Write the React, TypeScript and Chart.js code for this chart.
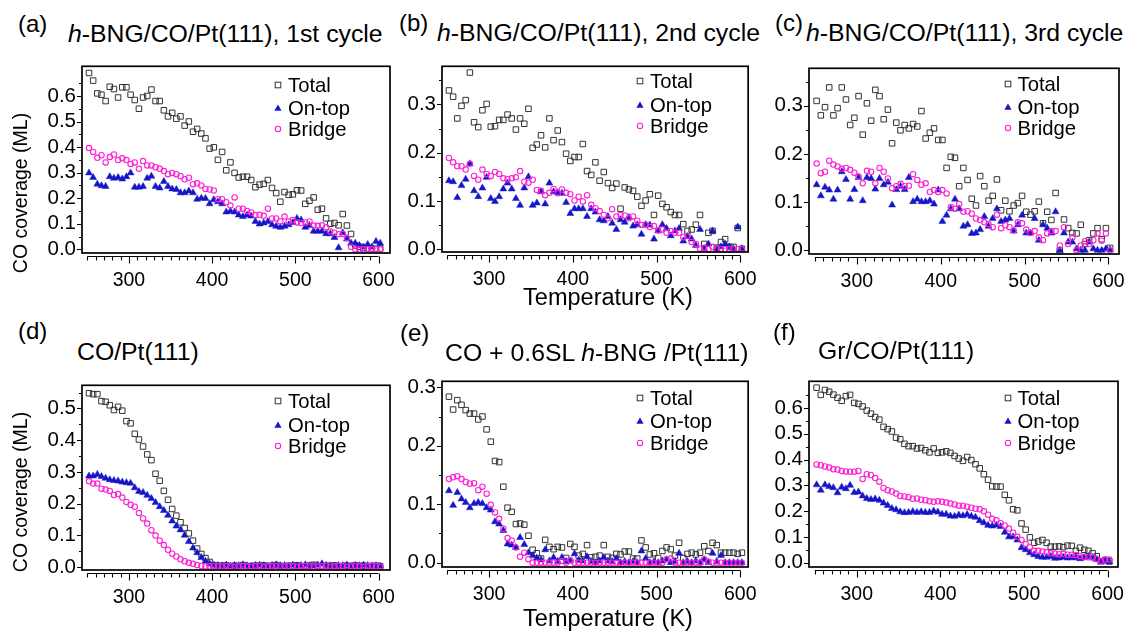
import React, { useEffect, useRef } from "react";
import { Chart, registerables } from "chart.js";

Chart.register(...registerables);

const FONT = '"Liberation Sans", Arial, Helvetica, sans-serif';

// ---------------- data ----------------
const temperatureK = [
  252, 257, 262, 267, 272, 277, 282, 287, 292, 297,
  302, 307, 312, 317, 322, 327, 332, 337, 342, 347,
  352, 357, 362, 367, 372, 377, 382, 387, 392, 397,
  402, 407, 412, 417, 422, 427, 432, 437, 442, 447,
  452, 457, 462, 467, 472, 477, 482, 487, 492, 497,
  502, 507, 512, 517, 522, 527, 532, 537, 542, 547,
  552, 557, 562, 567, 572, 577, 582, 587, 592, 597,
  602,
];

const xTickValues = [
  250, 260, 270, 280, 290, 300, 310, 320, 330, 340, 350, 360,
  370, 380, 390, 400, 410, 420, 430, 440, 450, 460, 470, 480,
  490, 500, 510, 520, 530, 540, 550, 560, 570, 580, 590, 600,
];

const yTicks065 = [0, 0.05, 0.1, 0.15, 0.2, 0.25, 0.3, 0.35, 0.4, 0.45, 0.5, 0.55, 0.6, 0.65];
const yTicks055 = [0, 0.05, 0.1, 0.15, 0.2, 0.25, 0.3, 0.35, 0.4, 0.45, 0.5, 0.55];
const yTicks035 = [0, 0.05, 0.1, 0.15, 0.2, 0.25, 0.3, 0.35];
const yTicks030 = [0, 0.05, 0.1, 0.15, 0.2, 0.25, 0.3];

// (a) h-BNG/CO/Pt(111), 1st cycle
const aTotal = [
  0.69, 0.66, 0.61, 0.605, 0.58, 0.636, 0.627, 0.594, 0.634, 0.634,
  0.605, 0.584, 0.55, 0.594, 0.6, 0.625, 0.58, 0.58, 0.544, 0.52,
  0.534, 0.511, 0.52, 0.484, 0.5, 0.46, 0.471, 0.453, 0.434, 0.394,
  0.399, 0.35, 0.381, 0.309, 0.34, 0.299, 0.281, 0.284, 0.284, 0.271,
  0.243, 0.253, 0.256, 0.271, 0.24, 0.22, 0.186, 0.224, 0.213, 0.215,
  0.231, 0.23, 0.178, 0.19, 0.203, 0.155, 0.159, 0.121, 0.1, 0.103,
  0.094, 0.138, 0.093, 0.06, 0.015, 0.01, 0.005, 0.003, 0.003, 0.002,
  0.003,
];
const aOnTop = [
  0.299, 0.281, 0.255, 0.249, 0.246, 0.284, 0.278, 0.281, 0.275, 0.284,
  0.299, 0.243, 0.243, 0.246, 0.278, 0.286, 0.246, 0.24, 0.265, 0.246,
  0.236, 0.234, 0.221, 0.221, 0.228, 0.221, 0.196, 0.2, 0.199, 0.178,
  0.194, 0.186, 0.178, 0.146, 0.149, 0.146, 0.134, 0.128, 0.134, 0.13,
  0.109, 0.099, 0.103, 0.109, 0.096, 0.09, 0.086, 0.09, 0.096, 0.105,
  0.121, 0.115, 0.086, 0.093, 0.071, 0.071, 0.071, 0.061, 0.061, 0.046,
  0.006, 0.065, 0.04, 0.024, 0.024, 0.015, 0.009, 0.019, 0.009, 0.031,
  0.024,
];
const aBridge = [
  0.396, 0.381, 0.358, 0.368, 0.34, 0.361, 0.371, 0.349, 0.356, 0.349,
  0.334, 0.34, 0.315, 0.345, 0.328, 0.328, 0.321, 0.315, 0.306, 0.294,
  0.299, 0.294, 0.286, 0.274, 0.28, 0.255, 0.258, 0.25, 0.236, 0.234,
  0.23, 0.196, 0.196, 0.184, 0.171, 0.203, 0.159, 0.159, 0.15, 0.144,
  0.134, 0.135, 0.131, 0.159, 0.121, 0.121, 0.109, 0.128, 0.109, 0.115,
  0.105, 0.103, 0.105, 0.109, 0.093, 0.092, 0.094, 0.086, 0.07, 0.065,
  0.059, 0.06, 0.044, 0.01, 0, 0, 0, 0, 0, 0,
  0,
];

// (b) h-BNG/CO/Pt(111), 2nd cycle
const bTotal = [
  0.329, 0.316, 0.271, 0.297, 0.309, 0.366, 0.263, 0.253, 0.288, 0.301,
  0.254, 0.255, 0.268, 0.268, 0.279, 0.271, 0.248, 0.271, 0.26, 0.291,
  0.21, 0.217, 0.236, 0.211, 0.271, 0.226, 0.246, 0.222, 0.198, 0.183,
  0.191, 0.191, 0.218, 0.162, 0.154, 0.18, 0.142, 0.16, 0.137, 0.127,
  0.136, 0.084, 0.128, 0.124, 0.121, 0.109, 0.09, 0.101, 0.114, 0.071,
  0.111, 0.094, 0.087, 0.077, 0.071, 0.071, 0.052, 0.038, 0.041, 0.051,
  0.071, 0.011, 0.034, 0.038, 0.003, 0.015, 0.021, 0.005, 0.005, 0.044,
  0.001,
];
const bOnTop = [
  0.142, 0.14, 0.107, 0.132, 0.145, 0.177, 0.121, 0.109, 0.127, 0.149,
  0.105, 0.099, 0.109, 0.125, 0.137, 0.125, 0.105, 0.091, 0.127, 0.15,
  0.091, 0.096, 0.119, 0.094, 0.137, 0.119, 0.117, 0.116, 0.097, 0.074,
  0.084, 0.084, 0.084, 0.068, 0.084, 0.077, 0.061, 0.059, 0.068, 0.054,
  0.041, 0.061, 0.056, 0.066, 0.048, 0.051, 0.031, 0.051, 0.05, 0.021,
  0.038, 0.051, 0.043, 0.028, 0.038, 0.043, 0.017, 0.026, 0.021, 0.008,
  0.041, 0.001, 0.011, 0.038, 0.001, 0.005, 0.011, 0.005, 0.001, 0.046,
  0.001,
];
const bBridge = [
  0.189, 0.18, 0.172, 0.172, 0.165, 0.177, 0.152, 0.144, 0.165, 0.156,
  0.152, 0.16, 0.156, 0.147, 0.145, 0.147, 0.149, 0.162, 0.14, 0.138,
  0.144, 0.123, 0.121, 0.112, 0.117, 0.125, 0.116, 0.124, 0.117, 0.114,
  0.101, 0.109, 0.099, 0.112, 0.092, 0.085, 0.079, 0.071, 0.064, 0.083,
  0.068, 0.071, 0.07, 0.064, 0.068, 0.059, 0.05, 0.051, 0.046, 0.048,
  0.039, 0.041, 0.034, 0.038, 0.034, 0.034, 0.025, 0.028, 0.015, 0.011,
  0.001, 0.003, 0, 0.005, 0, 0, 0, 0, 0, 0,
  0,
];

// (c) h-BNG/CO/Pt(111), 3rd cycle
const cTotal = [
  0.31, 0.28, 0.297, 0.338, 0.28, 0.295, 0.338, 0.313, 0.26, 0.275,
  0.32, 0.24, 0.305, 0.269, 0.333, 0.32, 0.272, 0.292, 0.222, 0.265,
  0.249, 0.26, 0.253, 0.262, 0.257, 0.289, 0.232, 0.244, 0.253, 0.229,
  0.229, 0.171, 0.194, 0.192, 0.133, 0.171, 0.146, 0.107, 0.093, 0.154,
  0.133, 0.103, 0.113, 0.147, 0.083, 0.103, 0.081, 0.093, 0.098, 0.113,
  0.08, 0.074, 0.081, 0.101, 0.056, 0.08, 0.063, 0.119, 0.0, 0.064,
  0.046, 0.036, 0.035, 0.053, 0.013, 0.021, 0.035, 0.046, 0.023, 0.046,
  0.005,
];
const cOnTop = [
  0.136, 0.113, 0.131, 0.125, 0.106, 0.125, 0.163, 0.147, 0.106, 0.126,
  0.151, 0.103, 0.151, 0.149, 0.127, 0.149, 0.136, 0.141, 0.094, 0.126,
  0.133, 0.126, 0.151, 0.101, 0.106, 0.101, 0.101, 0.103, 0.096, 0.125,
  0.06, 0.073, 0.086, 0.106, 0.086, 0.05, 0.053, 0.035, 0.036, 0.043,
  0.07, 0.05, 0.066, 0.086, 0.06, 0.063, 0.066, 0.04, 0.053, 0.073,
  0.036, 0.036, 0.066, 0.021, 0.053, 0.046, 0.036, 0.08, 0.0, 0.036,
  0.017, 0.017, 0.003, 0.0, 0.0, 0.017, 0.003, 0.0, 0.0, 0.003,
  0.001,
];
const cBridge = [
  0.18, 0.16, 0.163, 0.186, 0.178, 0.174, 0.169, 0.171, 0.167, 0.161,
  0.153, 0.139, 0.165, 0.163, 0.139, 0.171, 0.163, 0.149, 0.129, 0.133,
  0.138, 0.133, 0.134, 0.158, 0.146, 0.136, 0.139, 0.121, 0.125, 0.121,
  0.125, 0.118, 0.09, 0.086, 0.096, 0.08, 0.081, 0.076, 0.066, 0.063,
  0.058, 0.054, 0.048, 0.074, 0.046, 0.052, 0.048, 0.041, 0.058, 0.056,
  0.043, 0.036, 0.04, 0.027, 0.021, 0.035, 0.04, 0.04, 0.01, 0.048,
  0.013, 0.027, 0.0, 0.01, 0.019, 0.013, 0.021, 0.035, 0.02, 0.035,
  0.0,
];

// (d) CO/Pt(111)
const dTotal = [
  0.548, 0.545, 0.545, 0.523, 0.521, 0.51, 0.495, 0.505, 0.493, 0.46,
  0.453, 0.42, 0.402, 0.38, 0.355, 0.337, 0.294, 0.272, 0.24, 0.212,
  0.183, 0.162, 0.141, 0.123, 0.106, 0.083, 0.058, 0.041, 0.028, 0.016,
  0.005, 0.004, 0.003, 0.005, 0.002, 0.004, 0.003, 0.006, 0.003, 0.002,
  0.004, 0.003, 0.005, 0.002, 0.004, 0.006, 0.003, 0.002, 0.004, 0.003,
  0.005, 0.002, 0.003, 0.004, 0.007, 0.003, 0.002, 0.004, 0.003, 0.005,
  0.002, 0.003, 0.004, 0.002, 0.005, 0.003, 0.004, 0.002, 0.003, 0.004,
  0.002,
];
const dOnTop = [
  0.287, 0.287, 0.292, 0.285, 0.28, 0.275, 0.273, 0.271, 0.268, 0.266,
  0.264, 0.25, 0.238, 0.235, 0.226, 0.216, 0.203, 0.19, 0.178, 0.163,
  0.145, 0.129, 0.117, 0.1, 0.08, 0.06, 0.045, 0.03, 0.018, 0.01,
  0.006, 0.005, 0.004, 0.006, 0.003, 0.005, 0.004, 0.007, 0.004, 0.003,
  0.005, 0.006, 0.004, 0.003, 0.005, 0.007, 0.004, 0.005, 0.003, 0.006,
  0.004, 0.005, 0.007, 0.004, 0.003, 0.006, 0.01, 0.005, 0.004, 0.003,
  0.005, 0.004, 0.006, 0.003, 0.005, 0.004, 0.006, 0.005, 0.003, 0.004,
  0.003,
];
const dBridge = [
  0.27, 0.263, 0.263, 0.247, 0.244, 0.24, 0.227, 0.23, 0.219, 0.205,
  0.196, 0.19, 0.17, 0.153, 0.137, 0.116, 0.099, 0.083, 0.069, 0.054,
  0.042, 0.033, 0.024, 0.018, 0.013, 0.01, 0.006, 0.003, 0.002, 0.002,
  0.003, 0.002, 0.001, 0.003, 0.002, 0.001, 0.002, 0.003, 0.002, 0.001,
  0.002, 0.003, 0.001, 0.002, 0.002, 0.003, 0.001, 0.002, 0.003, 0.002,
  0.001, 0.002, 0.003, 0.002, 0.001, 0.002, 0.002, 0.003, 0.001, 0.002,
  0.003, 0.002, 0.001, 0.002, 0.003, 0.002, 0.001, 0.002, 0.004, 0.002,
  0.001,
];

// (e) CO + 0.6SL h-BNG /Pt(111)
const eTotal = [
  0.284, 0.262, 0.278, 0.27, 0.261, 0.255, 0.255, 0.245, 0.25, 0.228,
  0.207, 0.174, 0.172, 0.13, 0.094, 0.087, 0.066, 0.067, 0.065, 0.046,
  0.022, 0.016, 0.007, 0.039, 0.027, 0.023, 0.027, 0.026, 0.008, 0.032,
  0.027, 0.012, 0.015, 0.03, 0.009, 0.01, 0.012, 0.03, 0.01, 0.008,
  0.015, 0.014, 0.019, 0.019, 0.007, 0.007, 0.038, 0.026, 0.014, 0.016,
  0.008, 0.02, 0.026, 0.023, 0.012, 0.034, 0.008, 0.015, 0.017, 0.014,
  0.017, 0.028, 0.02, 0.034, 0.03, 0.017, 0.017, 0.017, 0.017, 0.015,
  0.017,
];
const eOnTop = [
  0.123, 0.098, 0.12, 0.109, 0.103, 0.094, 0.101, 0.103, 0.101, 0.094,
  0.09, 0.07, 0.066, 0.055, 0.032, 0.03, 0.026, 0.043, 0.031, 0.017,
  0.012, 0.008, 0.005, 0.022, 0.003, 0.009, 0.002, 0.009, 0.002, 0.003,
  0.015, 0.004, 0.003, 0.01, 0.002, 0, 0.003, 0.009, 0.003, 0.002,
  0.007, 0, 0.002, 0, 0.002, 0, 0.02, 0.007, 0, 0.002,
  0, 0.003, 0.005, 0, 0.002, 0.016, 0, 0.002, 0, 0.003,
  0, 0.005, 0, 0.016, 0.002, 0.012, 0, 0, 0, 0,
  0,
];
const eBridge = [
  0.143, 0.146, 0.148, 0.143, 0.138, 0.135, 0.136, 0.124, 0.13, 0.118,
  0.099, 0.086, 0.075, 0.058, 0.042, 0.038, 0.026, 0.01, 0.017, 0.006,
  0, 0, 0, 0, 0, 0, 0, 0.003, 0, 0.004,
  0, 0, 0, 0, 0, 0, 0, 0, 0, 0,
  0, 0, 0, 0, 0, 0, 0, 0, 0, 0,
  0, 0, 0.006, 0.007, 0, 0, 0, 0, 0, 0,
  0, 0.006, 0.002, 0, 0, 0, 0, 0, 0, 0,
  0,
];

// (f) Gr/CO/Pt(111)
const fTotal = [
  0.679, 0.651, 0.67, 0.663, 0.652, 0.64, 0.628, 0.646, 0.651, 0.62,
  0.616, 0.606, 0.59, 0.578, 0.565, 0.555, 0.527, 0.518, 0.509, 0.485,
  0.479, 0.461, 0.452, 0.452, 0.443, 0.445, 0.436, 0.428, 0.443, 0.426,
  0.428, 0.432, 0.426, 0.414, 0.404, 0.395, 0.41, 0.398, 0.382, 0.366,
  0.343, 0.322, 0.296, 0.295, 0.295, 0.263, 0.242, 0.207, 0.203, 0.152,
  0.128, 0.098, 0.077, 0.082, 0.088, 0.077, 0.062, 0.062, 0.063, 0.06,
  0.066, 0.065, 0.046, 0.058, 0.05, 0.046, 0.036, 0.025, 0.006, 0.01,
  0.005,
];
const fOnTop = [
  0.302, 0.281, 0.302, 0.295, 0.291, 0.271, 0.293, 0.287, 0.3, 0.272,
  0.274, 0.259, 0.249, 0.245, 0.247, 0.242, 0.231, 0.222, 0.21, 0.205,
  0.197, 0.194, 0.195, 0.198, 0.195, 0.197, 0.195, 0.195, 0.2, 0.196,
  0.188, 0.188, 0.181, 0.18, 0.185, 0.182, 0.187, 0.18, 0.176, 0.163,
  0.155, 0.145, 0.142, 0.146, 0.14, 0.118, 0.1, 0.1, 0.088, 0.058,
  0.05, 0.038, 0.031, 0.024, 0.021, 0.021, 0.024, 0.017, 0.018, 0.021,
  0.018, 0.019, 0.019, 0.015, 0.019, 0.024, 0.02, 0.012, 0.002, 0.007,
  0.002,
];
const fBridge = [
  0.381, 0.378, 0.373, 0.369, 0.362, 0.361, 0.356, 0.354, 0.353, 0.353,
  0.356, 0.325, 0.343, 0.34, 0.328, 0.314, 0.29, 0.281, 0.276, 0.268,
  0.259, 0.257, 0.254, 0.248, 0.249, 0.244, 0.242, 0.238, 0.236, 0.238,
  0.236, 0.233, 0.229, 0.226, 0.221, 0.221, 0.217, 0.213, 0.209, 0.207,
  0.199, 0.186, 0.17, 0.164, 0.153, 0.144, 0.132, 0.116, 0.1, 0.088,
  0.072, 0.061, 0.046, 0.046, 0.043, 0.04, 0.036, 0.035, 0.033, 0.034,
  0.031, 0.031, 0.03, 0.025, 0.023, 0.021, 0.019, 0.014, 0.006, 0.012,
  0.012,
];

// ---------------- styles / layout ----------------
const TOTAL_COLOR = "#333333";
const ONTOP_COLOR = "#1616c8";
const BRIDGE_COLOR = "#ff1fd4";

const AXIS_GAP = 3;
const PAD_L = 70;
const PAD_T = 10;
const PAD_R = 20;
const AXIS_H = 40;

type Frame = { l: number; t: number; r: number; b: number };
type PanelCfg = {
  frame: Frame;
  xMin: number;
  xMax: number;
  yMin: number;
  yMax: number;
  yTicks: number[];
  total: number[];
  onTop: number[];
  bridge: number[];
};

const panels: PanelCfg[] = [
  { frame: { l: 82, t: 58, r: 390, b: 253 }, xMin: 243.6, xMax: 613.8, yMin: -0.0262, yMax: 0.716, yTicks: yTicks065, total: aTotal, onTop: aOnTop, bridge: aBridge },
  { frame: { l: 442, t: 58, r: 750, b: 252 }, xMin: 243.7, xMax: 609.5, yMin: -0.0119, yMax: 0.379, yTicks: yTicks035, total: bTotal, onTop: bOnTop, bridge: bBridge },
  { frame: { l: 809, t: 60, r: 1119, b: 254 }, xMin: 242.9, xMax: 612.6, yMin: -0.0139, yMax: 0.3777, yTicks: yTicks035, total: cTotal, onTop: cOnTop, bridge: cBridge },
  { frame: { l: 82, t: 377, r: 390, b: 570 }, xMin: 243.6, xMax: 613.8, yMin: -0.019, yMax: 0.573, yTicks: yTicks055, total: dTotal, onTop: dOnTop, bridge: dBridge },
  { frame: { l: 442, t: 373, r: 750, b: 567 }, xMin: 243.7, xMax: 609.5, yMin: -0.0126, yMax: 0.3103, yTicks: yTicks030, total: eTotal, onTop: eOnTop, bridge: eBridge },
  { frame: { l: 809, t: 373, r: 1118, b: 567 }, xMin: 242.9, xMax: 612.4, yMin: -0.0286, yMax: 0.7037, yTicks: yTicks065, total: fTotal, onTop: fOnTop, bridge: fBridge },
];

const isMajorY = (v: number) => Math.abs(v * 10 - Math.round(v * 10)) < 1e-6;

const frameTicksPlugin = {
  id: "frameTicks",
  afterDraw(chart: any) {
    const { ctx, chartArea: ca } = chart;
    const xs = chart.scales.x;
    const ys = chart.scales.y;
    const frameBottom = ca.bottom - AXIS_GAP;
    ctx.save();
    ctx.strokeStyle = "#000";
    ctx.lineWidth = 1.7;
    ctx.strokeRect(ca.left, ca.top, ca.right - ca.left, frameBottom - ca.top);
    ctx.lineWidth = 1.1;
    ctx.beginPath();
    const ay = Math.round(ca.bottom) + 0.5;
    const x0 = xs.getPixelForValue(xTickValues[0]);
    const x1 = xs.getPixelForValue(xTickValues[xTickValues.length - 1]);
    ctx.moveTo(x0, ay);
    ctx.lineTo(x1, ay);
    for (const t of xs.ticks) {
      const v = t.value;
      const px = Math.round(xs.getPixelForValue(v)) + 0.5;
      const len = v % 100 === 0 ? 7 : 4;
      ctx.moveTo(px, ay);
      ctx.lineTo(px, ay + len);
    }
    for (const t of ys.ticks) {
      const v = t.value;
      const py = Math.round(ys.getPixelForValue(v)) + 0.5;
      const len = isMajorY(v) ? 5 : 3;
      ctx.moveTo(ca.left, py);
      ctx.lineTo(ca.left - len, py);
    }
    ctx.stroke();
    ctx.restore();
  },
};

function Panel({ cfg }: { cfg: PanelCfg }) {
  const ref = useRef<HTMLCanvasElement | null>(null);
  const { frame } = cfg;
  const w = frame.r - frame.l + PAD_L + PAD_R;
  const h = frame.b + AXIS_GAP - frame.t + PAD_T + AXIS_H;

  useEffect(() => {
    if (!ref.current) return;
    const pts = (ys: number[]) => temperatureK.map((x, i) => ({ x, y: ys[i] }));
    const chart = new Chart(ref.current, {
      type: "scatter",
      data: {
        datasets: [
          {
            label: "Bridge",
            data: pts(cfg.bridge),
            order: 0,
            pointStyle: "circle",
            pointRadius: 2.7,
            pointBorderWidth: 1.1,
            pointBorderColor: BRIDGE_COLOR,
            pointBackgroundColor: "rgba(0,0,0,0)",
          },
          {
            label: "On-top",
            data: pts(cfg.onTop),
            order: 1,
            pointStyle: "triangle",
            pointRadius: 4,
            pointBorderWidth: 0.5,
            pointBorderColor: ONTOP_COLOR,
            pointBackgroundColor: ONTOP_COLOR,
          },
          {
            label: "Total",
            data: pts(cfg.total),
            order: 2,
            pointStyle: "rect",
            pointRadius: 3.9,
            pointBorderWidth: 1,
            pointBorderColor: TOTAL_COLOR,
            pointBackgroundColor: "rgba(0,0,0,0)",
          },
        ],
      } as any,
      options: {
        responsive: false,
        animation: false,
        devicePixelRatio: 1,
        events: [],
        layout: { padding: { left: 0, top: PAD_T, right: PAD_R, bottom: 0 } },
        plugins: {
          legend: { display: false },
          tooltip: { enabled: false },
          title: { display: false },
        },
        scales: {
          x: {
            type: "linear",
            bounds: "data",
            min: cfg.xMin,
            max: cfg.xMax,
            afterFit: (s: any) => {
              s.height = AXIS_H;
            },
            afterBuildTicks: (s: any) => {
              s.ticks = xTickValues.map((v) => ({ value: v }));
            },
            border: { display: false },
            grid: { display: false, drawTicks: false },
            ticks: {
              autoSkip: false,
              maxRotation: 0,
              minRotation: 0,
              padding: 13,
              color: "#000",
              font: { family: FONT, size: 19.5 },
              callback: (v: any) => (Number(v) % 100 === 0 ? String(v) : ""),
            },
          },
          y: {
            type: "linear",
            bounds: "data",
            min: cfg.yMin,
            max: cfg.yMax,
            afterFit: (s: any) => {
              s.width = PAD_L;
            },
            afterBuildTicks: (s: any) => {
              s.ticks = cfg.yTicks.map((v) => ({ value: v }));
            },
            border: { display: false },
            grid: { display: false, drawTicks: false },
            ticks: {
              autoSkip: false,
              padding: 6,
              color: "#000",
              font: { family: FONT, size: 20.5 },
              callback: (v: any) => {
                const n = Number(v);
                return isMajorY(n) ? Math.abs(n).toFixed(1) : "";
              },
            },
          },
        },
      } as any,
      plugins: [frameTicksPlugin],
    });
    return () => chart.destroy();
  }, [cfg]);

  return (
    <canvas
      ref={ref}
      width={w}
      height={h}
      style={{ position: "absolute", left: frame.l - PAD_L, top: frame.t - PAD_T, width: w, height: h }}
    />
  );
}

type TextSpec = { left: number; baseline: number; size: number; content: React.ReactNode };

const headings: TextSpec[] = [
  { left: 18, baseline: 32.5, size: 24, content: "(a)" },
  { left: 68, baseline: 43, size: 24.8, content: <><i>h</i>-BNG/CO/Pt(111), 1st cycle</> },
  { left: 399, baseline: 31, size: 24, content: "(b)" },
  { left: 437, baseline: 42, size: 24.8, content: <><i>h</i>-BNG/CO/Pt(111), 2nd cycle</> },
  { left: 775, baseline: 31, size: 24, content: "(c)" },
  { left: 806, baseline: 42, size: 24.8, content: <><i>h</i>-BNG/CO/Pt(111), 3rd cycle</> },
  { left: 18, baseline: 339.5, size: 24, content: "(d)" },
  { left: 77, baseline: 361, size: 24.8, content: "CO/Pt(111)" },
  { left: 400, baseline: 341, size: 24, content: "(e)" },
  { left: 445, baseline: 362, size: 24.8, content: <>CO + 0.6SL <i>h</i>-BNG /Pt(111)</> },
  { left: 773, baseline: 340, size: 24, content: "(f)" },
  { left: 818, baseline: 360, size: 24.8, content: "Gr/CO/Pt(111)" },
];

const legendPlacements = [
  { textLeft: 288, rows: [84.5, 107.5, 129] },
  { textLeft: 650, rows: [81, 104.5, 126] },
  { textLeft: 1017.5, rows: [83.5, 106.5, 128] },
  { textLeft: 288, rows: [400.5, 424.5, 446] },
  { textLeft: 650, rows: [397.5, 420.5, 442.5] },
  { textLeft: 1017.5, rows: [397.5, 420.5, 442.5] },
];

const legendLabels = ["Total", "On-top", "Bridge"];

function Marker({ kind }: { kind: number }) {
  if (kind === 0)
    return (
      <svg width={10} height={10}>
        <rect x={2.2} y={2.2} width={5.6} height={5.6} fill="none" stroke={TOTAL_COLOR} strokeWidth={1} />
      </svg>
    );
  if (kind === 1)
    return (
      <svg width={10} height={10}>
        <polygon points="5,1.5 8.6,7.8 1.4,7.8" fill={ONTOP_COLOR} />
      </svg>
    );
  return (
    <svg width={10} height={10}>
      <circle cx={5} cy={5} r={2.7} fill="none" stroke={BRIDGE_COLOR} strokeWidth={1.1} />
    </svg>
  );
}

function Legend({ textLeft, rows }: { textLeft: number; rows: number[] }) {
  const size = 20.3;
  return (
    <>
      {rows.map((cy, i) => (
        <React.Fragment key={i}>
          <div style={{ position: "absolute", left: textLeft - 15, top: cy - 5, width: 10, height: 10, lineHeight: 0 }}>
            <Marker kind={i} />
          </div>
          <div
            style={{
              position: "absolute",
              left: textLeft,
              top: cy - 0.4885 * size,
              fontSize: size,
              lineHeight: 1,
              whiteSpace: "nowrap",
            }}
          >
            {legendLabels[i]}
          </div>
        </React.Fragment>
      ))}
    </>
  );
}

export default function App() {
  return (
    <div
      style={{
        position: "absolute",
        left: 0,
        top: 0,
        width: 1128,
        height: 633,
        overflow: "hidden",
        background: "#fff",
        fontFamily: FONT,
        color: "#000",
      }}
    >
      {panels.map((p, i) => (
        <Panel key={i} cfg={p} />
      ))}
      {headings.map((t, i) => (
        <div
          key={"h" + i}
          style={{
            position: "absolute",
            left: t.left,
            top: t.baseline - 0.8465 * t.size,
            fontSize: t.size,
            lineHeight: 1,
            whiteSpace: "nowrap",
          }}
        >
          {t.content}
        </div>
      ))}
      {legendPlacements.map((l, i) => (
        <Legend key={"l" + i} textLeft={l.textLeft} rows={l.rows} />
      ))}
      {[193, 492].map((cy, i) => (
        <div
          key={"yt" + i}
          style={{
            position: "absolute",
            left: 21,
            top: cy,
            transform: "translate(-50%, -50%) rotate(-90deg)",
            fontSize: 19.5,
            lineHeight: 1,
            whiteSpace: "nowrap",
          }}
        >
          CO coverage (ML)
        </div>
      ))}
      {[306, 626.5].map((bl, i) => (
        <div
          key={"xt" + i}
          style={{
            position: "absolute",
            left: 508,
            width: 200,
            textAlign: "center",
            top: bl - 0.8465 * 23.5,
            fontSize: 23.5,
            lineHeight: 1,
            whiteSpace: "nowrap",
          }}
        >
          Temperature (K)
        </div>
      ))}
    </div>
  );
}
